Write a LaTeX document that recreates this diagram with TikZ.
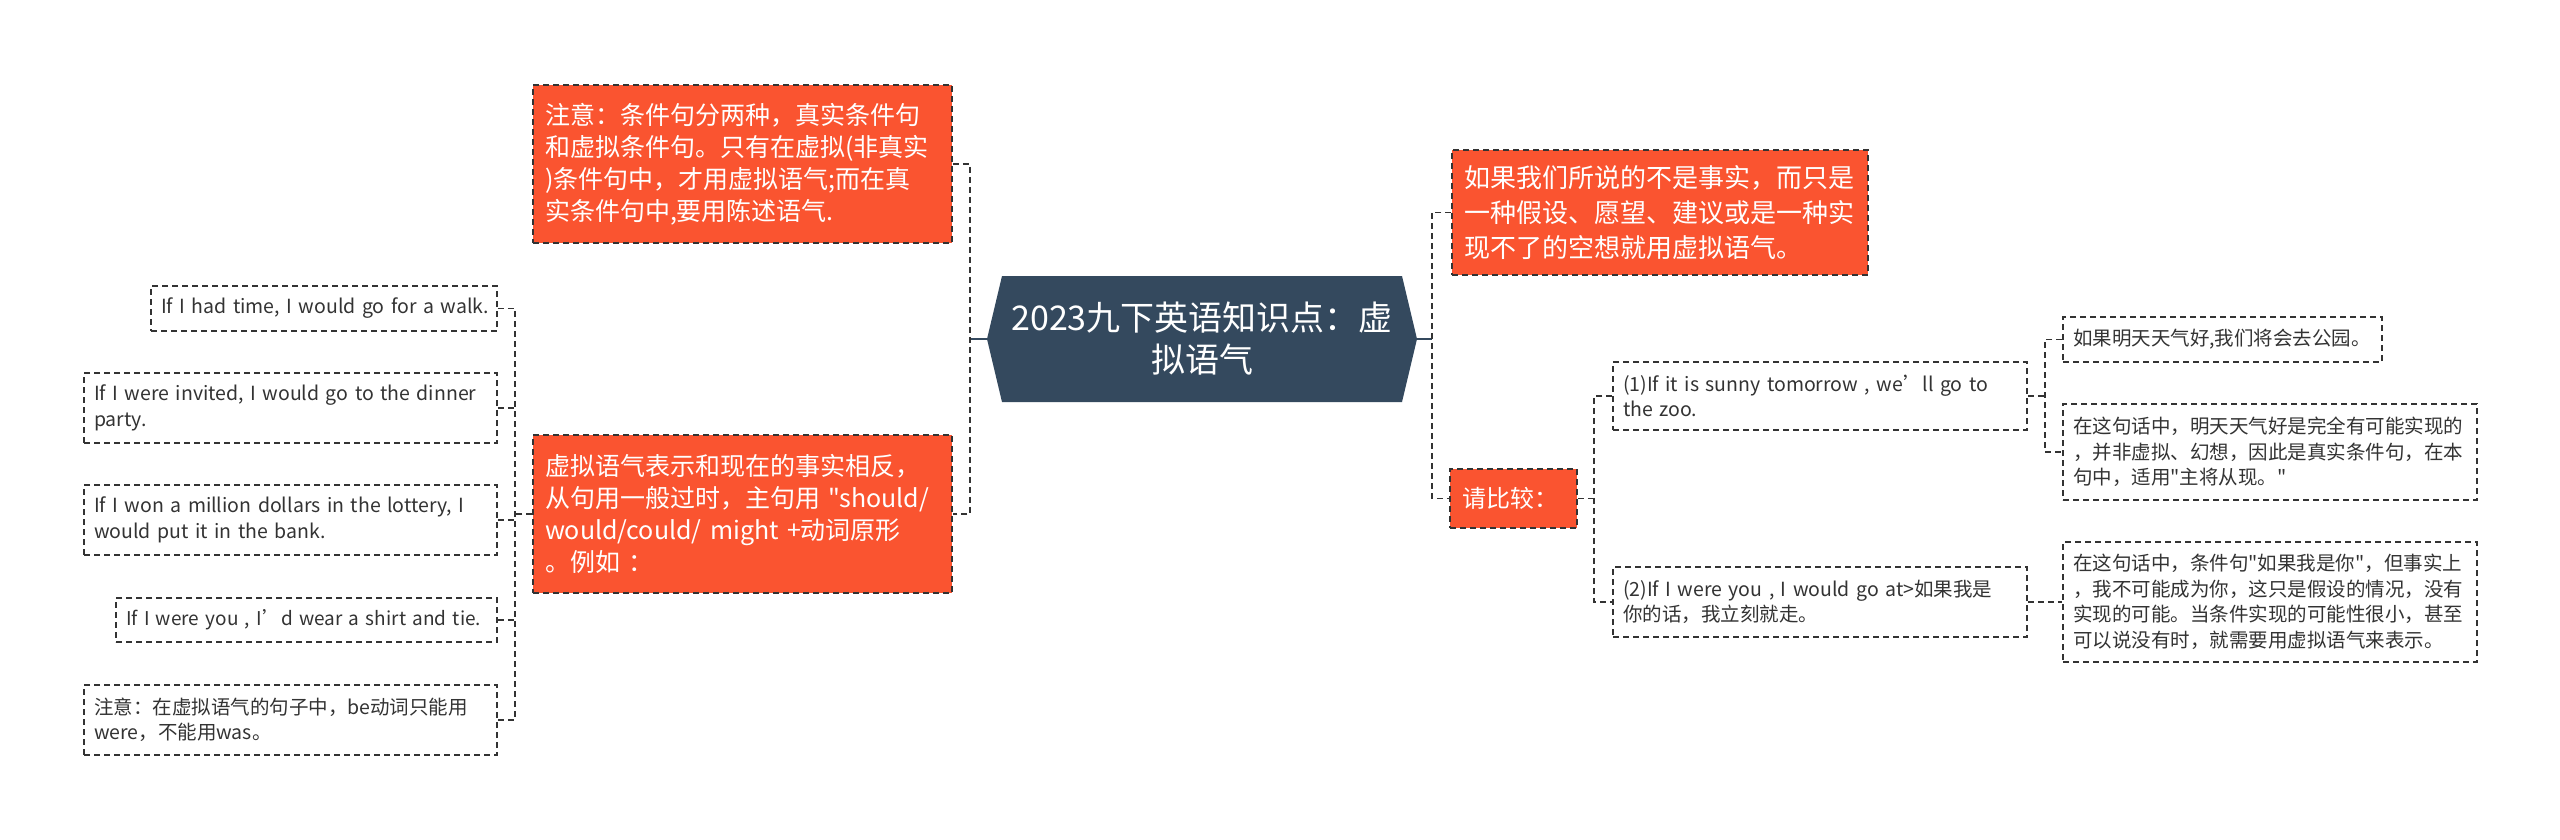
\documentclass[tikz,border=0pt]{standalone}
\usepackage{fontspec}
\setmainfont{Noto Sans CJK SC}[Ligatures=TeXOff]
\usetikzlibrary{calc}
\definecolor{orangefill}{HTML}{FA5430}
\definecolor{slate}{HTML}{34495E}
\definecolor{ink}{HTML}{333333}
\begin{document}
\begin{tikzpicture}[x=1pt,y=-1pt,
  conn/.style={draw=ink, line width=1.5pt, dash pattern=on 6pt off 4pt},
  solidconn/.style={draw=slate, line width=1.5pt},
  obox/.style={draw=ink, fill=orangefill, line width=1.5pt, dash pattern=on 6pt off 4pt, text=white, inner xsep=12pt, inner ysep=0pt, align=left},
  wbox/.style={draw=ink, fill=white, line width=1.5pt, dash pattern=on 6pt off 4pt, text=ink, inner xsep=10pt, inner ysep=0pt, align=left, font=\fontsize{19.5}{25.5}\selectfont},
]
\useasboundingbox[fill=white] (0,0) rectangle (2560,839);

% central topic
\fill[slate] (1002,276) -- (1402,276) -- (1417,339) -- (1402,402) -- (1002,402) -- (987,339) -- cycle;
\node[text=white, align=center, font=\fontsize{34}{42}\selectfont] (c) at (1202,339) {2023九下英语知识点：虚\\拟语气};
\coordinate (cl) at (987,339);
\coordinate (cr) at (1417,339);

% left main branches
\node[obox, text width=395pt, minimum height=158pt, font=\fontsize{25}{32}\selectfont] (n1) at (742.5,164)
 {注意：条件句分两种，真实条件句\\和虚拟条件句。只有在虚拟(非真实\\)条件句中，才用虚拟语气;而在真\\实条件句中,要用陈述语气.};
\node[obox, text width=395pt, minimum height=158pt, font=\fontsize{25}{32}\selectfont] (n2) at (742.5,514)
 {虚拟语气表示和现在的事实相反，\\\mbox{从句用一般过时，主句用 "should/}\\\mbox{would/could/ might +动词原形}\\。例如 ：};

% left leaves
\node[wbox, text width=326pt, minimum height=45pt] (L1) at (324,308.5) {\mbox{If I had time, I would go for a walk.}};
\node[wbox, text width=393pt, minimum height=70pt] (L2) at (290.5,408) {\mbox{If I were invited, I would go to the dinner}\\party.};
\node[wbox, text width=393pt, minimum height=70pt] (L3) at (290.5,520) {\mbox{If I won a million dollars in the lottery, I}\\\mbox{would put it in the bank.}};
\node[wbox, text width=361pt, minimum height=44pt, font=\fontsize{19}{25}\selectfont] (L4) at (306.5,620) {\mbox{If I were you , I’d wear a shirt and tie.}};
\node[wbox, text width=393pt, minimum height=70pt] (L5) at (290.5,720) {注意：在虚拟语气的句子中，be动词只能用\\were，不能用was。};

% right main branches
\node[obox, text width=392pt, minimum height=125pt, font=\fontsize{26}{35}\selectfont] (r1) at (1660,212.5)
 {如果我们所说的不是事实，而只是\\一种假设、愿望、建议或是一种实\\现不了的空想就用虚拟语气。};
\node[obox, text width=103pt, minimum height=59pt, font=\fontsize{24}{30}\selectfont] (r2) at (1513.5,498.5) {请比较：};

% right second level
\node[wbox, text width=394pt, minimum height=68pt] (R1) at (1820,396) {\mbox{(1)If it is sunny tomorrow , we’ll go to}\\\mbox{the zoo.}};
\node[wbox, text width=394pt, minimum height=70pt] (R2) at (1820,602) {\mbox{(2)If I were you , I would go at>如果我是}\\你的话，我立刻就走。};

% right third level
\node[wbox, text width=299pt, minimum height=45pt] (R1a) at (2222.5,339.5) {如果明天天气好,我们将会去公园。};
\node[wbox, text width=394pt, minimum height=96pt] (R1b) at (2270,452) {在这句话中，明天天气好是完全有可能实现的\\，并非虚拟、幻想，因此是真实条件句，在本\\句中，适用"主将从现。"};
\node[wbox, text width=394pt, minimum height=120pt] (R2a) at (2270,602) {在这句话中，条件句"如果我是你"，但事实上\\，我不可能成为你，这只是假设的情况，没有\\实现的可能。当条件实现的可能性很小，甚至\\可以说没有时，就需要用虚拟语气来表示。};

% connectors
\coordinate (spA) at (970,339);
\draw[solidconn] (cl) -- (spA);
\draw[conn] (n1.east) -- (spA |- n1.east) -- (spA |- n2.east) -- (n2.east);

\coordinate (spB) at (515,514);
\draw[conn] (n2.west) -- (spB |- n2.west);
\draw[conn] (L1.east) -- (spB |- L1.east) -- (spB |- L5.east) -- (L5.east);
\draw[conn] (L2.east) -- (spB |- L2.east);
\draw[conn] (L3.east) -- (spB |- L3.east);
\draw[conn] (L4.east) -- (spB |- L4.east);

\coordinate (spC) at (1432,339);
\draw[solidconn] (cr) -- (spC);
\draw[conn] (r1.west) -- (spC |- r1.west) -- (spC |- r2.west) -- (r2.west);

\coordinate (spD) at (1594,498.5);
\draw[conn] (r2.east) -- (spD |- r2.east);
\draw[conn] (R1.west) -- (spD |- R1.west) -- (spD |- R2.west) -- (R2.west);

\coordinate (spE) at (2045,396);
\draw[conn] (R1.east) -- (spE |- R1.east);
\draw[conn] (R1a.west) -- (spE |- R1a.west) -- (spE |- R1b.west) -- (R1b.west);

\draw[conn] (R2.east) -- (R2a.west);
\end{tikzpicture}
\end{document}
